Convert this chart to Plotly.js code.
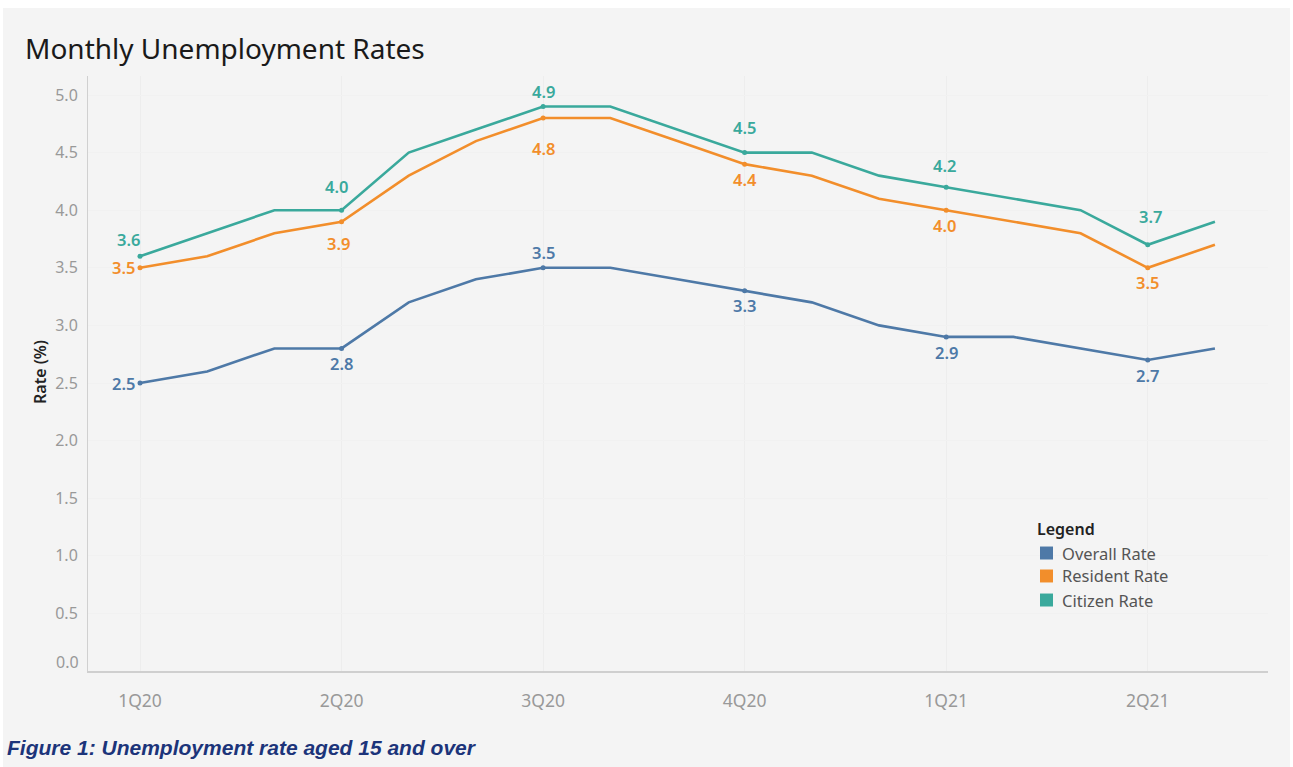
<!DOCTYPE html>
<html>
<head>
<meta charset="utf-8">
<script src="https://cdn.plot.ly/plotly-3.0.1.min.js"></script>
<style>
  html, body { margin: 0; padding: 0; background: #ffffff; }
  #chart { position: absolute; left: 3px; top: 8px; width: 1287px; height: 759px; }
</style>
</head>
<body>
<div id="chart"></div>
<script>
// ---- data ----
const months = ['Jan 2020','Feb 2020','Mar 2020','Apr 2020','May 2020','Jun 2020','Jul 2020','Aug 2020','Sep 2020',
                'Oct 2020','Nov 2020','Dec 2020','Jan 2021','Feb 2021','Mar 2021','Apr 2021','May 2021'];
const overallRate  = [2.5, 2.6, 2.8, 2.8, 3.2, 3.4, 3.5, 3.5, 3.4, 3.3, 3.2, 3.0, 2.9, 2.9, 2.8, 2.7, 2.8];
const residentRate = [3.5, 3.6, 3.8, 3.9, 4.3, 4.6, 4.8, 4.8, 4.6, 4.4, 4.3, 4.1, 4.0, 3.9, 3.8, 3.5, 3.7];
const citizenRate  = [3.6, 3.8, 4.0, 4.0, 4.5, 4.7, 4.9, 4.9, 4.7, 4.5, 4.5, 4.3, 4.2, 4.1, 4.0, 3.7, 3.9];
const quarterMonths = ['Jan 2020','Apr 2020','Jul 2020','Oct 2020','Jan 2021','Apr 2021'];
const quarterLabels = ['1Q20','2Q20','3Q20','4Q20','1Q21','2Q21'];
const yTickVals = [0, 0.5, 1, 1.5, 2, 2.5, 3, 3.5, 4, 4.5, 5];
const seriesNames = ['Overall Rate','Resident Rate','Citizen Rate'];

// ---- styles ----
const colors = {overall: '#4e79a7', resident: '#f28e2b', citizen: '#3aa99c'};
const FONT = 'Noto Sans, Open Sans, sans-serif';
const bg = '#f4f4f4';

const series = [
  {name: seriesNames[0], y: overallRate, color: colors.overall},
  {name: seriesNames[1], y: residentRate, color: colors.resident},
  {name: seriesNames[2], y: citizenRate, color: colors.citizen}
];

// label placement (pixel offsets) per series, for each quarter point
const labelShift = {
  'Overall Rate':  [[-17, 0], [0, -15], [0, 15], [0, -15], [0, -16], [0, -16]],
  'Resident Rate': [[-17, 0], [-3, -22], [0, -30], [0, -15], [-2, -15], [0, -15]],
  'Citizen Rate':  [[-12, 17], [-5, 24], [0, 15], [0, 25], [-2, 22], [3, 28]]
};

const traces = [];
const annotations = [];
const shapes = [];
const quarterIdx = quarterMonths.map(m => months.indexOf(m));

series.forEach(s => {
  traces.push({
    x: months, y: s.y, type: 'scatter', mode: 'lines',
    line: {color: s.color, width: 2.6}, showlegend: false,
    name: s.name, hoverinfo: 'x+y+name'
  });
  traces.push({
    x: quarterIdx.map(i => months[i]), y: quarterIdx.map(i => s.y[i]),
    type: 'scatter', mode: 'markers',
    marker: {color: s.color, size: 5}, showlegend: false, hoverinfo: 'skip'
  });
  quarterIdx.forEach((i, k) => {
    const sh = labelShift[s.name][k];
    annotations.push({
      x: months[i], y: s.y[i], xref: 'x', yref: 'y',
      text: s.y[i].toFixed(1), showarrow: false,
      xanchor: 'center', yanchor: 'middle',
      xshift: sh[0], yshift: sh[1],
      font: {family: FONT, size: 16.5, color: s.color, weight: 600}
    });
  });
});

// ---- manual legend with square swatches ----
const legX = 0.8025, legTitleY = 0.2387;
const swX0 = 0.8068, swX1 = 0.8178, txtX = 0.8237;
const itemYs = [0.1983, 0.1597, 0.1193];
const halfSw = 0.0109;
annotations.push({
  xref: 'paper', yref: 'paper', x: legX, y: legTitleY, xanchor: 'left', yanchor: 'middle',
  showarrow: false, text: 'Legend',
  font: {family: FONT, size: 16, color: '#222', weight: 600}
});
series.forEach((s, k) => {
  shapes.push({
    type: 'rect', xref: 'paper', yref: 'paper',
    x0: swX0, x1: swX1, y0: itemYs[k] - halfSw, y1: itemYs[k] + halfSw,
    fillcolor: s.color, line: {width: 0}
  });
  annotations.push({
    xref: 'paper', yref: 'paper', x: txtX, y: itemYs[k], xanchor: 'left', yanchor: 'middle',
    showarrow: false, text: s.name,
    font: {family: FONT, size: 16.5, color: '#555'}
  });
});

// caption and axis title
annotations.push({
  xref: 'paper', yref: 'paper', x: -0.070, y: -0.1294,
  xanchor: 'left', yanchor: 'middle', showarrow: false,
  text: '<b><i>Figure 1: Unemployment rate aged 15 and over</i></b>',
  font: {family: 'Liberation Sans, Arial, sans-serif', size: 21, color: '#1c347a'}
});
annotations.push({
  xref: 'paper', yref: 'paper', x: -0.0407, y: 0.5025,
  xanchor: 'center', yanchor: 'middle', showarrow: false, textangle: -90,
  text: 'Rate (%)',
  font: {family: FONT, size: 16, color: '#222', weight: 600}
});
// 0.0 tick label sits slightly above the axis line, as in the original
annotations.push({
  xref: 'paper', yref: 'y', x: 0, y: yTickVals[0], xanchor: 'right', yanchor: 'middle',
  xshift: -7, yshift: 9, showarrow: false, text: yTickVals[0].toFixed(1),
  font: {family: FONT, size: 16, color: '#999'}
});

const layout = {
  width: 1287, height: 759,
  paper_bgcolor: bg, plot_bgcolor: bg,
  margin: {l: 85, r: 22, t: 68, b: 96},
  title: {
    text: 'Monthly Unemployment Rates',
    x: 22 / 1287, xanchor: 'left', xref: 'container',
    y: 1 - 41 / 759, yanchor: 'middle', yref: 'container',
    font: {family: FONT, size: 28, color: '#1a1a1a'}
  },
  xaxis: {
    type: 'category', range: [-0.774, 16.79],
    tickmode: 'array', tickvals: quarterMonths, ticktext: quarterLabels,
    showgrid: true, gridcolor: '#ededed', gridwidth: 1,
    showline: true, linecolor: '#cfcfcf', linewidth: 1.5,
    ticks: 'outside', ticklen: 13, tickcolor: 'rgba(0,0,0,0)',
    tickfont: {family: FONT, size: 17.5, color: '#999'},
    zeroline: false, fixedrange: true
  },
  yaxis: {
    range: [0, 5.165],
    tickmode: 'array', tickvals: yTickVals,
    ticktext: yTickVals.map((v, i) => i === 0 ? '' : v.toFixed(1)),
    showgrid: true, gridcolor: '#f1f1f1', gridwidth: 1,
    showline: true, linecolor: '#d0d0d0', linewidth: 1,
    ticks: 'outside', ticklen: 6, tickcolor: 'rgba(0,0,0,0)',
    tickfont: {family: FONT, size: 16, color: '#999'},
    zeroline: false, fixedrange: true
  },
  annotations: annotations,
  shapes: shapes,
  showlegend: false,
  hovermode: 'closest'
};

Plotly.newPlot('chart', traces, layout, {displayModeBar: false});
</script>
</body>
</html>
